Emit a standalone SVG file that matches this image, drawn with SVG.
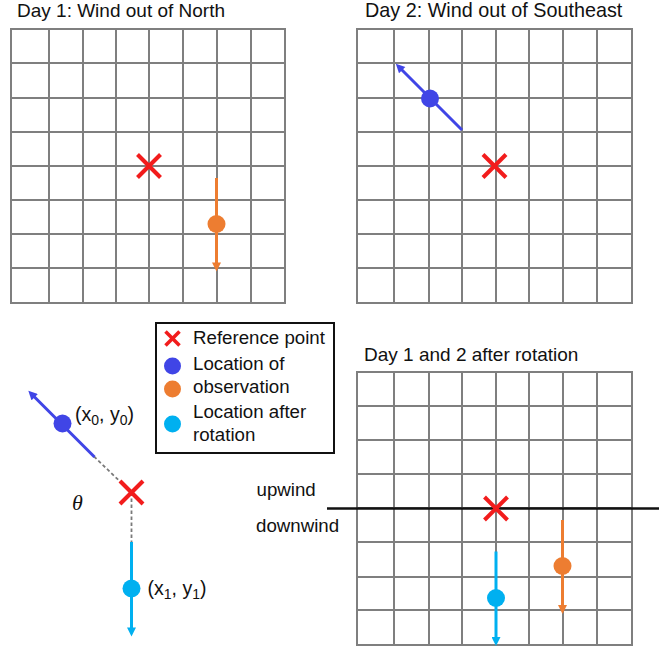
<svg xmlns="http://www.w3.org/2000/svg" width="659" height="650" viewBox="0 0 659 650">
<style>
.grid line{stroke:#7f7f7f;stroke-width:2}
.t{font-family:"Liberation Sans",Arial,sans-serif;fill:#111}
.title{font-size:19px}
.lbl{font-size:18.7px}
.pt{font-size:19.5px}
.x line{stroke:#f21c1c;stroke-width:4}
.blue{stroke:#4045e6;stroke-width:3}
.orange{stroke:#ed7d31;stroke-width:3}
.lblue{stroke:#00b0f0;stroke-width:3}
.dash{stroke:#7a7a7a;stroke-width:1.8;stroke-dasharray:3.5,2.5}
</style>
<defs>
<marker id="ab" viewBox="0 0 10 10" refX="5" refY="5" markerWidth="10" markerHeight="9" markerUnits="userSpaceOnUse" orient="auto"><path d="M0,0L10,5L0,10z" fill="#4045e6"/></marker>
<marker id="ao" viewBox="0 0 10 10" refX="5" refY="5" markerWidth="10" markerHeight="9" markerUnits="userSpaceOnUse" orient="auto"><path d="M0,0L10,5L0,10z" fill="#ed7d31"/></marker>
<marker id="al" viewBox="0 0 10 10" refX="5" refY="5" markerWidth="10" markerHeight="9" markerUnits="userSpaceOnUse" orient="auto"><path d="M0,0L10,5L0,10z" fill="#00b0f0"/></marker>
</defs>
<rect width="659" height="650" fill="#fff"/>

<g id="day1">
<text class="t title" x="17" y="17">Day 1: Wind out of North</text>
<g class="grid">
<line x1="11" y1="29" x2="11" y2="303"/><line x1="49" y1="29" x2="49" y2="303"/><line x1="83" y1="29" x2="83" y2="303"/><line x1="116" y1="29" x2="116" y2="303"/><line x1="149" y1="29" x2="149" y2="303"/><line x1="183" y1="29" x2="183" y2="303"/><line x1="217" y1="29" x2="217" y2="303"/><line x1="251" y1="29" x2="251" y2="303"/><line x1="285" y1="29" x2="285" y2="303"/>
<line x1="10" y1="29" x2="286" y2="29"/><line x1="10" y1="63" x2="286" y2="63"/><line x1="10" y1="98" x2="286" y2="98"/><line x1="10" y1="132" x2="286" y2="132"/><line x1="10" y1="166" x2="286" y2="166"/><line x1="10" y1="200" x2="286" y2="200"/><line x1="10" y1="234" x2="286" y2="234"/><line x1="10" y1="268" x2="286" y2="268"/><line x1="10" y1="303" x2="286" y2="303"/>
</g>
<g class="x"><line x1="137.5" y1="154.5" x2="160.5" y2="177.5"/><line x1="160.5" y1="154.5" x2="137.5" y2="177.5"/></g>
<line class="orange" x1="216.5" y1="178" x2="216.5" y2="267" marker-end="url(#ao)"/>
<circle cx="216.5" cy="224" r="9" fill="#ed7d31"/>
</g>

<g id="day2">
<text class="t title" x="365" y="17" style="font-size:19.8px">Day 2: Wind out of Southeast</text>
<g class="grid">
<line x1="357" y1="29" x2="357" y2="303"/><line x1="394" y1="29" x2="394" y2="303"/><line x1="429" y1="29" x2="429" y2="303"/><line x1="462" y1="29" x2="462" y2="303"/><line x1="496" y1="29" x2="496" y2="303"/><line x1="529" y1="29" x2="529" y2="303"/><line x1="563" y1="29" x2="563" y2="303"/><line x1="597" y1="29" x2="597" y2="303"/><line x1="632" y1="29" x2="632" y2="303"/>
<line x1="356" y1="29" x2="633" y2="29"/><line x1="356" y1="63" x2="633" y2="63"/><line x1="356" y1="98" x2="633" y2="98"/><line x1="356" y1="132" x2="633" y2="132"/><line x1="356" y1="166" x2="633" y2="166"/><line x1="356" y1="200" x2="633" y2="200"/><line x1="356" y1="234" x2="633" y2="234"/><line x1="356" y1="268" x2="633" y2="268"/><line x1="356" y1="303" x2="633" y2="303"/>
</g>
<g class="x"><line x1="483" y1="154.5" x2="506" y2="177.5"/><line x1="506" y1="154.5" x2="483" y2="177.5"/></g>
<line class="blue" x1="462" y1="130" x2="399" y2="67" marker-end="url(#ab)"/>
<circle cx="430" cy="98.5" r="9" fill="#4045e6"/>
</g>

<g id="legend">
<rect x="156" y="323" width="178" height="130" fill="#fff" stroke="#111" stroke-width="2"/>
<g class="x"><line x1="165.5" y1="331.5" x2="179.5" y2="345.5" style="stroke-width:3.5"/><line x1="179.5" y1="331.5" x2="165.5" y2="345.5" style="stroke-width:3.5"/></g>
<circle cx="172.5" cy="366" r="8.5" fill="#4045e6"/>
<circle cx="172.5" cy="389" r="8.5" fill="#ed7d31"/>
<circle cx="172.5" cy="424" r="8.5" fill="#00b0f0"/>
<text class="t lbl" x="193" y="344">Reference point</text>
<text class="t lbl" x="193" y="370">Location of</text>
<text class="t lbl" x="193" y="393">observation</text>
<text class="t lbl" x="193" y="418">Location after</text>
<text class="t lbl" x="193" y="441">rotation</text>
</g>

<g id="rotation">
<line class="dash" x1="94" y1="456.5" x2="131.5" y2="492.5"/>
<line class="dash" x1="131.5" y1="492.5" x2="131.5" y2="542"/>
<line class="blue" x1="94.5" y1="457" x2="31.5" y2="394" marker-end="url(#ab)"/>
<circle cx="62.5" cy="423.5" r="9" fill="#4045e6"/>
<line class="lblue" x1="131.5" y1="542" x2="131.5" y2="632" marker-end="url(#al)"/>
<circle cx="131.5" cy="588.5" r="9" fill="#00b0f0"/>
<g class="x"><line x1="120" y1="481" x2="143" y2="504"/><line x1="143" y1="481" x2="120" y2="504"/></g>
<text class="t pt" x="75" y="421">(x<tspan font-size="14" dy="4">0</tspan><tspan dy="-4">, y</tspan><tspan font-size="14" dy="4">0</tspan><tspan dy="-4">)</tspan></text>
<text class="t pt" x="147.5" y="595">(x<tspan font-size="14" dy="4">1</tspan><tspan dy="-4">, y</tspan><tspan font-size="14" dy="4">1</tspan><tspan dy="-4">)</tspan></text>
<text x="72" y="510" style="font-family:'Liberation Serif','Times New Roman',serif;font-style:italic;font-size:22px;fill:#111">θ</text>
</g>

<g id="day12">
<text class="t title" x="364" y="361">Day 1 and 2 after rotation</text>
<g class="grid">
<line x1="357" y1="372" x2="357" y2="645"/><line x1="394" y1="372" x2="394" y2="645"/><line x1="429" y1="372" x2="429" y2="645"/><line x1="462" y1="372" x2="462" y2="645"/><line x1="496" y1="372" x2="496" y2="645"/><line x1="529" y1="372" x2="529" y2="645"/><line x1="563" y1="372" x2="563" y2="645"/><line x1="597" y1="372" x2="597" y2="645"/><line x1="632" y1="372" x2="632" y2="645"/>
<line x1="356" y1="372" x2="633" y2="372"/><line x1="356" y1="406" x2="633" y2="406"/><line x1="356" y1="440" x2="633" y2="440"/><line x1="356" y1="474" x2="633" y2="474"/><line x1="356" y1="508" x2="633" y2="508"/><line x1="356" y1="542" x2="633" y2="542"/><line x1="356" y1="577" x2="633" y2="577"/><line x1="356" y1="610" x2="633" y2="610"/><line x1="356" y1="645" x2="633" y2="645"/>
</g>
<line x1="327" y1="508.5" x2="659" y2="508.5" stroke="#111" stroke-width="2.5"/>
<text class="t lbl" x="256.5" y="496">upwind</text>
<text class="t lbl" x="256" y="532">downwind</text>
<g class="x"><line x1="484.5" y1="497" x2="507.5" y2="520"/><line x1="507.5" y1="497" x2="484.5" y2="520"/></g>
<line class="lblue" x1="496" y1="551.5" x2="496" y2="641.5" marker-end="url(#al)"/>
<circle cx="496" cy="598" r="9" fill="#00b0f0"/>
<line class="orange" x1="562.5" y1="520" x2="562.5" y2="609.5" marker-end="url(#ao)"/>
<circle cx="562.5" cy="566" r="9" fill="#ed7d31"/>
</g>
</svg>
